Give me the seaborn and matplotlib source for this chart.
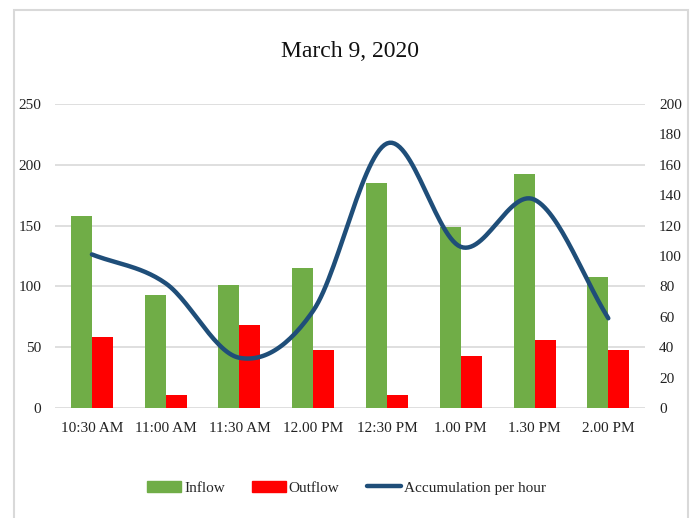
import matplotlib
matplotlib.use("Agg")
import matplotlib.pyplot as plt
from matplotlib.patches import Rectangle, Patch
from matplotlib.lines import Line2D
import seaborn as sns
import pandas as pd
import numpy as np

# data
times = ["10:30 AM", "11:00 AM", "11:30 AM", "12.00 PM", "12:30 PM", "1.00 PM", "1.30 PM", "2.00 PM"]
inflow = [158, 93, 101, 115, 185, 149, 192, 108]
outflow = [58, 11, 68, 48, 11, 43, 56, 48]
accumulation = [101, 82, 33, 64, 174, 106, 137, 59]

GREEN = "#70ad47"
RED = "#ff0000"
BLUE = "#1f4e79"

sns.set_style("white")
plt.rcParams["font.family"] = ["Liberation Serif", "DejaVu Serif"]

df = pd.DataFrame({
    "Time": times * 2,
    "Value": inflow + outflow,
    "Series": ["Inflow"] * len(times) + ["Outflow"] * len(times),
})

fig = plt.figure(figsize=(6.93, 5.18), dpi=100)
ax = fig.add_axes([0.0794, 0.2124, 0.8516, 0.587])

sns.barplot(data=df, x="Time", y="Value", hue="Series", palette=[GREEN, RED],
            width=0.57, gap=0, saturation=1, linewidth=0, ax=ax, legend=False)
ax.set_ylim(0, 250)
ax.set_yticks(range(0, 251, 50))
ax.set_xlim(-0.5, len(times) - 0.5)
ax.set_xlabel("")
ax.set_ylabel("")
ax.grid(axis="y", color="#d9d9d9", linewidth=1.2)
ax.set_axisbelow(True)
for s in ax.spines.values():
    s.set_visible(False)
ax.tick_params(axis="both", length=0, labelsize=11, colors="#222222")
ax.tick_params(axis="x", pad=10)
ax.tick_params(axis="y", pad=10)

# smoothed accumulation curve (Catmull-Rom, like Excel's smoothed line)
pts = np.array(accumulation, dtype=float)
xs = np.arange(len(pts), dtype=float)
px = np.concatenate([[2 * xs[0] - xs[1]], xs, [2 * xs[-1] - xs[-2]]])
py = np.concatenate([[2 * pts[0] - pts[1]], pts, [2 * pts[-1] - pts[-2]]])
cx, cy = [], []
t = np.linspace(0, 1, 30)
for i in range(1, len(px) - 2):
    for arr, out in ((px, cx), (py, cy)):
        p0, p1, p2, p3 = arr[i - 1], arr[i], arr[i + 1], arr[i + 2]
        out.extend(0.5 * (2 * p1 + (-p0 + p2) * t + (2 * p0 - 5 * p1 + 4 * p2 - p3) * t ** 2
                          + (-p0 + 3 * p1 - 3 * p2 + p3) * t ** 3))

ax2 = ax.twinx()
sns.lineplot(x=cx, y=cy, color=BLUE, linewidth=3.2, sort=False, ax=ax2)
ax2.set_ylim(0, 200)
ax2.set_yticks(range(0, 201, 20))
for s in ax2.spines.values():
    s.set_visible(False)
ax2.tick_params(axis="y", length=0, labelsize=11, colors="#222222", pad=10)
ax2.set_xlim(-0.5, len(times) - 0.5)

fig.text(0.505, 0.9, "March 9, 2020", ha="center", va="center", fontsize=17, color="#111111")

handles = [Patch(color=GREEN, label="Inflow"), Patch(color=RED, label="Outflow"),
           Line2D([], [], color=BLUE, linewidth=3.2, label="Accumulation per hour")]
fig.legend(handles=handles, loc="center", bbox_to_anchor=(0.5, 0.058), ncol=3, frameon=False,
           fontsize=11, handlelength=2.2, handletextpad=0.2, columnspacing=1.8)

# outer chart border (bottom edge runs off the image)
fig.patches.append(Rectangle((14 / 693, -0.05), 674 / 693, 1.05 - 10 / 518, transform=fig.transFigure,
                             fill=False, edgecolor="#d9d9d9", linewidth=1.5))

fig.savefig("out.png", dpi=100)
